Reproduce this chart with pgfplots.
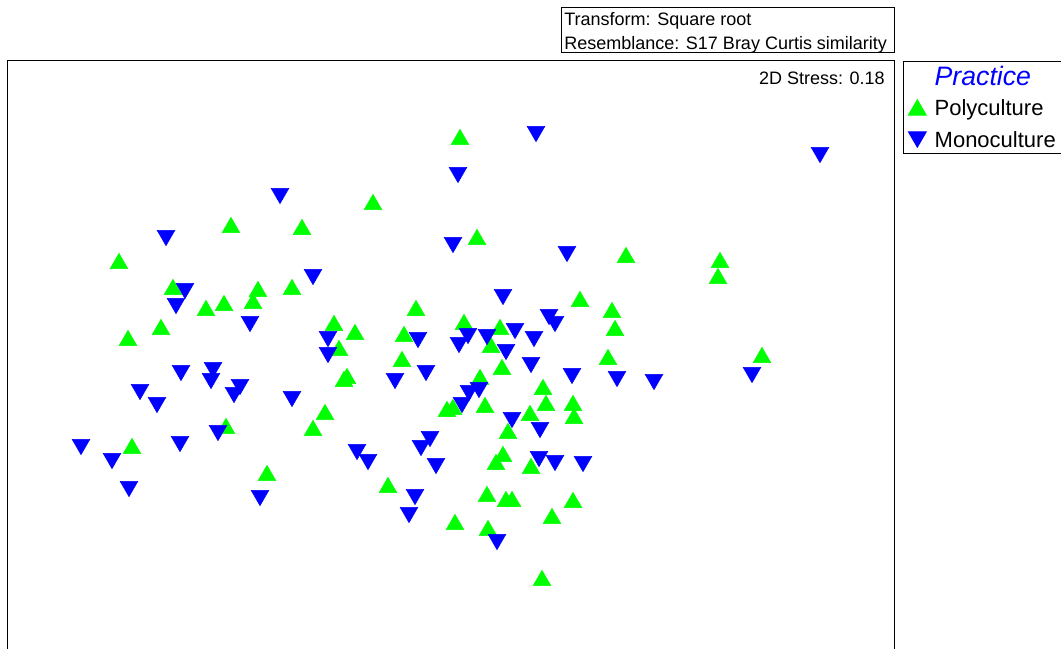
\documentclass[border=0pt]{standalone}
\usepackage{pgfplots}
\pgfplotsset{compat=1.18}
\usepackage{fontspec}
\setmainfont{Liberation Sans}
\definecolor{pgreen}{RGB}{0,255,0}
\definecolor{mblue}{RGB}{0,0,255}
\begin{document}
\begin{tikzpicture}
\useasboundingbox (0pt,0pt) rectangle (795.75pt,486.75pt);
\clip (0pt,0pt) rectangle (795.75pt,486.75pt);
\begin{axis}[
  at={(5.25pt,-23.25pt)}, anchor=south west,
  scale only axis, width=665.25pt, height=464.25pt,
  xmin=7, xmax=894, ymin=-680, ymax=-61,
  ticks=none, axis line style={line width=0.75pt}, clip=false,
  legend style={draw=black, line width=0.75pt, fill=white,
    at={(1.01015,1)}, anchor=north west,
    inner xsep=3.75pt, inner ysep=2.5pt, row sep=8pt, column sep=6.4pt,
    nodes={inner sep=0pt, text height=14pt, text depth=2pt},
    font=\fontsize{16.5}{16.5}\selectfont},
  legend cell align=left,
  legend image code/.code={\draw[#1] plot coordinates {(0pt,0pt)};},
]
\addlegendimage{empty legend}
\addlegendentry{\raisebox{-1.5pt}{\fontsize{20}{20}\selectfont\itshape\color{mblue}Practice}}
\addplot[only marks, color=pgreen, mark=triangle*, mark size=7.65pt,
  mark options={draw=none, fill=pgreen, yshift=-1.9pt}] table {
x y
460 -137
373 -202
231 -225
302 -227
477 -237
119 -261
626 -255
720 -260
718 -276
173 -287
258 -289
292 -287
253 -301
224 -303
206 -308
161 -327
128 -338
416 -308
580 -299
612 -310
334 -323
355 -332
339 -348
404 -334
464 -322
500 -327
491 -345
615 -328
402 -359
502 -367
608 -357
762 -355
347 -376
344 -379
480 -377
543 -387
325 -412
313 -428
226 -426
132 -446
267 -473
447 -409
453 -407
485 -405
546 -403
573 -403
574 -416
530 -413
508 -431
503 -454
496 -462
531 -466
388 -485
487 -494
506 -499
512 -499
573 -500
455 -522
488 -528
552 -516
542 -578
};
\addlegendentry{Polyculture}
\addplot[only marks, color=mblue, mark=triangle*, mark size=7.65pt,
  mark options={draw=none, fill=mblue, yshift=1.9pt, rotate=180}] table {
x y
536 -134
458 -175
820 -155
280 -196
166 -238
453 -245
567 -254
313 -277
185 -291
176 -306
250 -324
503 -297
549 -317
555 -324
328 -339
328 -355
418 -340
468 -336
459 -345
487 -337
515 -331
534 -339
506 -352
531 -365
426 -373
395 -381
181 -373
213 -370
211 -381
240 -387
234 -395
140 -392
157 -405
292 -399
572 -376
617 -379
654 -382
752 -375
462 -405
469 -393
479 -390
512 -420
540 -430
218 -433
180 -444
81 -447
112 -461
129 -489
430 -439
421 -448
357 -452
368 -462
436 -466
539 -459
555 -463
583 -464
415 -497
409 -515
260 -498
497 -542
};
\addlegendentry{Monoculture\hspace*{10pt}}
\draw[line width=0.75pt] (axis cs:561,-8) rectangle (axis cs:894,-53);
\node[anchor=base west, inner sep=0pt, font=\fontsize{13.5}{13.5}\selectfont] at (axis cs:564,-26) {Transform: Square root};
\node[anchor=base west, inner sep=0pt, font=\fontsize{13.5}{13.5}\selectfont] at (axis cs:564,-50) {Resemblance: S17 Bray Curtis similarity};
\node[anchor=base east, inner sep=0pt, font=\fontsize{13.5}{13.5}\selectfont] at (axis cs:885,-84.5) {2D Stress: 0.18};
\end{axis}
\end{tikzpicture}
\end{document}
